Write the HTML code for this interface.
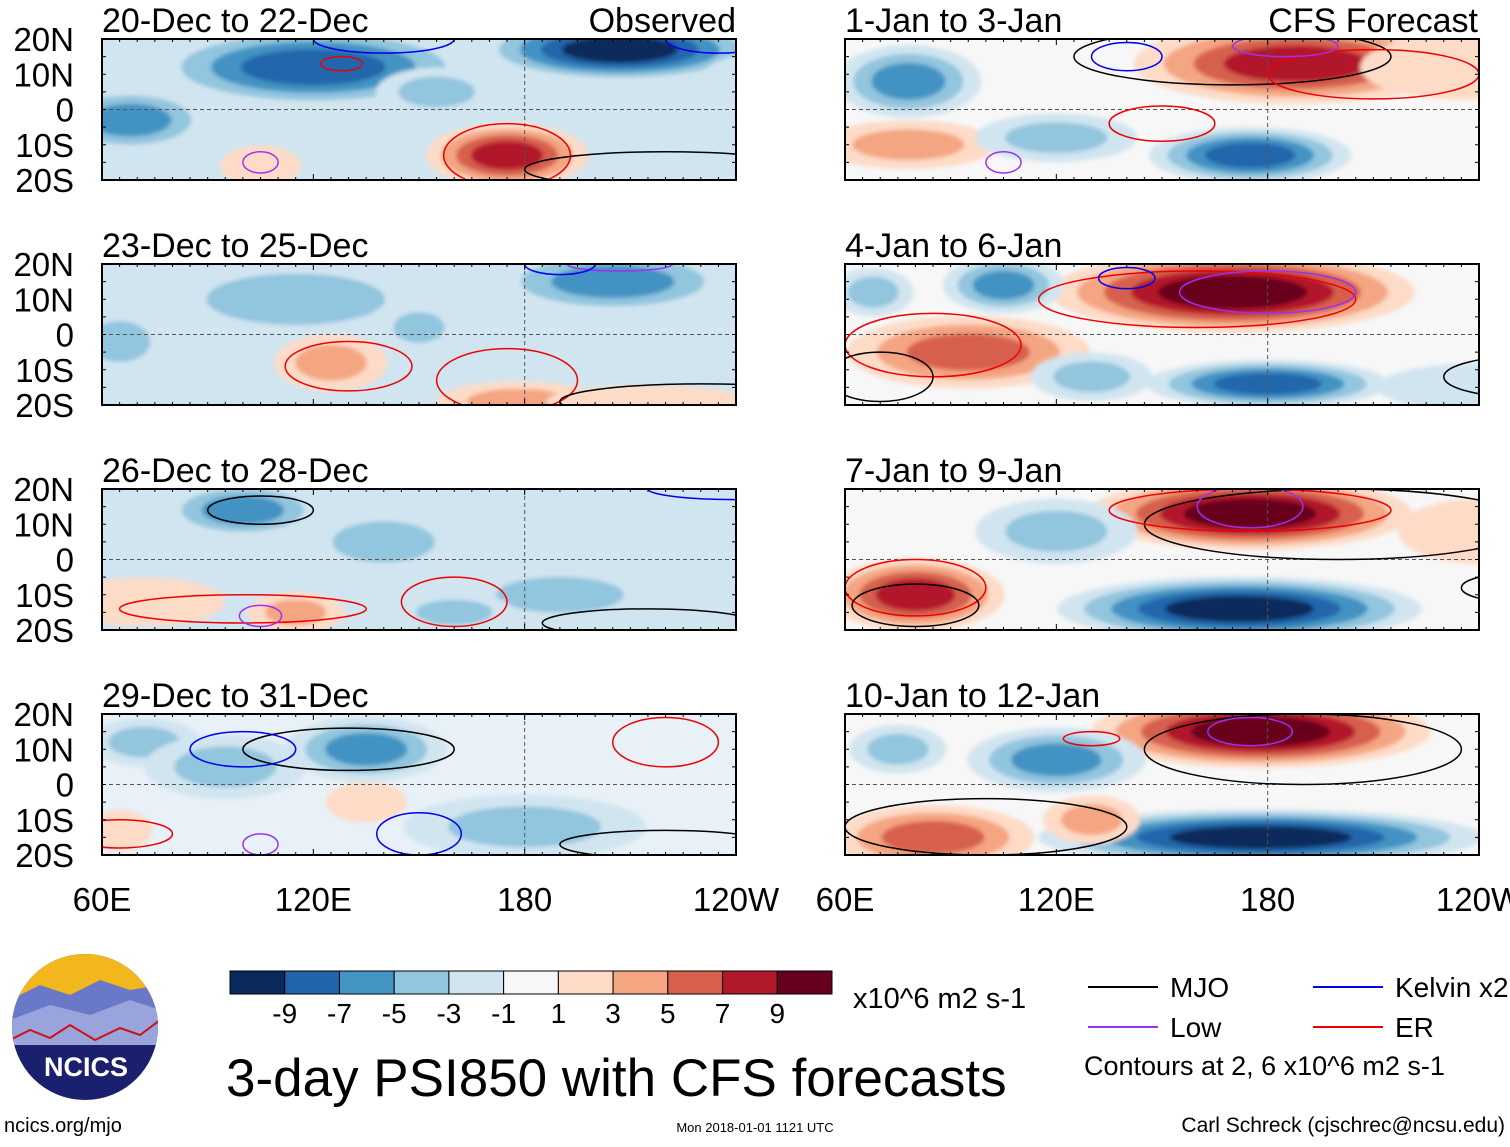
<!DOCTYPE html>
<html><head><meta charset="utf-8">
<style>
html,body{margin:0;padding:0;background:#fff;}
body{width:1510px;height:1142px;overflow:hidden;font-family:"Liberation Sans",sans-serif;}
svg text{font-family:"Liberation Sans",sans-serif;}
</style></head>
<body>
<svg id="fig" width="1510" height="1142" viewBox="0 0 1510 1142" xmlns="http://www.w3.org/2000/svg">
<defs><filter id="bl" x="-20%" y="-20%" width="140%" height="140%"><feGaussianBlur stdDeviation="2"/></filter></defs>
</svg>
<script>
const levels=[-9,-7,-5,-3,-1,1,3,5,7,9];
const colors=["#0b2a5c","#2166ac","#4393c3","#92c5de","#d1e5f0","#f7f7f7","#fddbc7","#f4a582","#d6604d","#b2182b","#67001f"];
const lonTicks=["60E","120E","180","120W"];
const latTicks=["20N","10N","0","10S","20S"];
const titles=["20-Dec to 22-Dec","23-Dec to 25-Dec","26-Dec to 28-Dec","29-Dec to 31-Dec","1-Jan to 3-Jan","4-Jan to 6-Jan","7-Jan to 9-Jan","10-Jan to 12-Jan"];
const panelBg=["#d1e5f0","#d1e5f0","#d1e5f0","#e8f1f7","#f7f7f7","#f7f7f7","#f7f7f7","#f7f7f7"];
// blobs: [lon, lat, rxDeg, ryDeg, signedLevelCount]
const blobs0=[[120,12,40,10,-4],[207,17,35,8,-5],[68,-3,20,8,-3],[175,-13,20,8,4],[105,-16,10,5,1],[155,5,15,6,-2],[250,5,20,10,-1]];
const blobs1=[[115,10,35,10,-2],[205,15,30,8,-3],[65,-2,12,8,-2],[125,-8,14,7,2],[178,-19,20,5,2],[215,-19,25,4,1],[150,2,10,6,-2]];
const blobs2=[[100,14,20,7,-3],[140,5,20,8,-2],[72,-12,20,6,1],[115,-15,12,5,2],[190,-10,25,7,-2],[160,-15,15,5,-2]];
const blobs3=[[135,10,20,8,-3],[72,12,14,6,-2],[135,-5,10,5,1],[180,-12,30,8,-2],[95,5,20,8,-2],[65,-13,8,5,1]];
const blobs4=[[188,13,40,10,4],[78,8,18,9,-3],[175,-13,25,7,-4],[78,-10,22,6,2],[235,12,25,8,1],[120,-8,20,6,-2]];
const blobs5=[[170,12,45,10,5],[105,14,15,7,-3],[95,-5,30,9,3],[180,-14,30,6,-4],[240,-15,25,6,-1],[68,12,10,6,-2],[130,-12,15,6,-2]];
const blobs6=[[175,13,40,9,5],[80,-10,22,9,4],[172,-14,45,8,-5],[120,8,20,8,-2],[240,8,20,8,1]];
const blobs7=[[178,15,42,9,5],[85,-15,25,8,3],[178,-15,55,7,-5],[120,7,22,8,-3],[75,10,12,6,-2],[130,-10,12,6,2]];
const allBlobs=[blobs0,blobs1,blobs2,blobs3,blobs4,blobs5,blobs6,blobs7];
// contours: [type, lon, lat, rxDeg, ryDeg]
const contours=[
 [["ER",175,-13,18,9],["ER",128,13,6,2],["Kelvin",140,20,20,4],["Kelvin",235,20,15,4],["MJO",220,-17,40,5],["Low",105,-15,5,3]],
 [["ER",130,-9,18,7],["ER",175,-13,20,9],["MJO",230,-19,40,5],["Low",207,20,15,2],["Kelvin",190,20,10,3]],
 [["ER",100,-14,35,4],["ER",160,-12,15,7],["MJO",105,14,15,4],["MJO",215,-18,30,4],["Kelvin",240,20,25,3],["Low",105,-16,6,3]],
 [["MJO",130,10,30,6],["Kelvin",100,10,15,5],["ER",220,12,15,7],["ER",65,-14,15,4],["Low",105,-17,5,3],["Kelvin",150,-14,12,6],["MJO",220,-17,30,4]],
 [["MJO",170,15,45,8],["Kelvin",140,15,10,4],["ER",210,10,30,7],["ER",150,-4,15,5],["Low",105,-15,5,3],["Low",185,18,15,3]],
 [["ER",160,10,45,8],["ER",85,-3,25,9],["MJO",255,-12,25,6],["MJO",70,-12,15,7],["Kelvin",140,16,8,3],["Low",180,12,25,6]],
 [["MJO",200,10,55,10],["ER",175,14,40,6],["ER",80,-8,20,8],["MJO",80,-13,18,6],["Low",175,15,15,6],["MJO",250,-8,15,4]],
 [["MJO",190,10,45,10],["ER",130,13,8,2],["MJO",100,-12,40,8],["Low",175,15,12,4]]
];
const ccol={MJO:"#000",Kelvin:"#0000ee",Low:"#9a32f0",ER:"#ee0000"};
const svg=document.getElementById('fig');
const NS="http://www.w3.org/2000/svg";
function mk(tag,attrs,parent){const e=document.createElementNS(NS,tag);for(const k in attrs)e.setAttribute(k,attrs[k]);(parent||svg).appendChild(e);return e;}
const W=634,H=141;
const px=[102,845], py=[39,264,489,714];
function xS(p,lon){return px[p<4?0:1]+(lon-60)/180*W;}
function yS(p,lat){return py[p%4]+(20-lat)/40*H;}
for(let p=0;p<8;p++){
  const x0=px[p<4?0:1],y0=py[p%4];
  const g=mk('g',{});
  
  
  const cp=mk('clipPath',{id:'c'+p},g);mk('rect',{x:x0,y:y0,width:W,height:H},cp);
  const inner=mk('g',{'clip-path':'url(#c'+p+')'},g);
  mk('rect',{x:x0,y:y0,width:W,height:H,fill:panelBg[p]},inner);
  const bg=mk('g',{filter:'url(#bl)'},inner);
  allBlobs[p].forEach(b=>{
    const n=Math.abs(b[4]),s=Math.sign(b[4]);
    for(let i=1;i<=n;i++){
      const f=1.15-(i-1)/n*0.85;
      const ci=s>0?5+i:5-i;
      const e=mk('ellipse',{cx:xS(p,b[0]),cy:yS(p,b[1]),rx:b[2]/180*W*f,ry:b[3]/40*H*f,fill:colors[ci]},bg);
      
      
    }
  });
  mk('line',{x1:x0,x2:x0+W,y1:yS(p,0),y2:yS(p,0),stroke:'#555','stroke-dasharray':'4 3','stroke-width':1},inner);
  mk('line',{x1:xS(p,180),x2:xS(p,180),y1:y0,y2:y0+H,stroke:'#555','stroke-dasharray':'4 3','stroke-width':1},inner);
  contours[p].forEach(c=>{
    const e=mk('ellipse',{cx:xS(p,c[1]),cy:yS(p,c[2]),rx:c[3]/180*W,ry:c[4]/40*H,fill:'none',stroke:ccol[c[0]],'stroke-width':1.5},inner);
    
    
  });
  mk('rect',{x:x0,y:y0,width:W,height:H,fill:'none',stroke:'#000','stroke-width':2},g);
  for(let lon=60;lon<=240;lon+=5){const x=xS(p,lon),l=lon%60==0?6:3;
    mk('line',{x1:x,x2:x,y1:y0,y2:y0+l,stroke:'#000'},g);mk('line',{x1:x,x2:x,y1:y0+H,y2:y0+H-l,stroke:'#000'},g);}
  for(let lat=-20;lat<=20;lat+=5){const y=yS(p,lat);
    mk('line',{x1:x0,x2:x0+4,y1:y,y2:y,stroke:'#000'},g);mk('line',{x1:x0+W,x2:x0+W-4,y1:y,y2:y,stroke:'#000'},g);}
  const t=mk('text',{x:x0,y:y0-7,'font-size':34,fill:'#000'},g);t.textContent=titles[p];
  
  if(p<4){latTicks.forEach((s,i)=>{const tt=mk('text',{x:74,y:y0+i*H/4+12,'font-size':33,'text-anchor':'end'},g);tt.textContent=s;
    });}
}
let t=mk('text',{x:736,y:32,'font-size':34,'text-anchor':'end'});t.textContent="Observed";

t=mk('text',{x:1478,y:32,'font-size':34,'text-anchor':'end'});t.textContent="CFS Forecast";

[0,1].forEach(c=>{lonTicks.forEach((s,i)=>{const tt=mk('text',{x:px[c]+i*W/3,y:911,'font-size':33,'text-anchor':'middle'});tt.textContent=s;
  });});
// colorbar
const cbx=230,cbw=602/11;
colors.forEach((c,i)=>{const r=mk('rect',{x:cbx+i*cbw,y:971,width:cbw,height:23,fill:c,stroke:'#000','stroke-width':1});
  });
levels.forEach((v,i)=>{const tt=mk('text',{x:cbx+(i+1)*cbw,y:1023,'font-size':28,'text-anchor':'middle'});tt.textContent=v;
  });
t=mk('text',{x:853,y:1008,'font-size':29});t.textContent="x10^6 m2 s-1";
t=mk('text',{x:226,y:1096,'font-size':53});t.textContent="3-day PSI850 with CFS forecasts";
// legend
[["MJO",1088,987,"#000"],["Kelvin x2",1313,987,"#0000ee"],["Low",1088,1027,"#9a32f0"],["ER",1313,1027,"#ee0000"]].forEach(l=>{
  const g=mk('g',{});
  mk('line',{x1:l[1],x2:l[1]+70,y1:l[2],y2:l[2],stroke:l[3],'stroke-width':2},g);
  const tt=mk('text',{x:l[1]+82,y:l[2]+10,'font-size':28},g);tt.textContent=l[0];});
t=mk('text',{x:1084,y:1075,'font-size':27});t.textContent="Contours at 2, 6 x10^6 m2 s-1";
// logo
const lg=mk('g',{});
const lc=mk('clipPath',{id:'lc'},lg);mk('circle',{cx:85,cy:1027,r:73},lc);
const li=mk('g',{'clip-path':'url(#lc)'},lg);
mk('rect',{x:10,y:950,width:150,height:160,fill:'#1a1f6e'},li);
mk('rect',{x:10,y:950,width:150,height:45,fill:'#f2b71c'},li);
mk('path',{d:'M10 1000 L40 985 L70 995 L100 980 L130 990 L160 985 L160 1040 L10 1040 Z',fill:'#6a78c8'},li);
mk('path',{d:'M10 1020 L50 1005 L90 1015 L130 1000 L160 1010 L160 1045 L10 1045 Z',fill:'#9aa4dc'},li);
mk('path',{d:'M10 1040 L30 1030 L50 1038 L70 1025 L95 1040 L120 1028 L140 1035 L160 1020',fill:'none',stroke:'#d01010','stroke-width':2},li);
t=mk('text',{x:86,y:1076,'font-size':27,'font-weight':'bold',fill:'#fff','text-anchor':'middle'},lg);t.textContent="NCICS";
t=mk('text',{x:4,y:1132,'font-size':20});t.textContent="ncics.org/mjo";
t=mk('text',{x:755,y:1132,'font-size':13,'text-anchor':'middle'});t.textContent="Mon 2018-01-01 1121 UTC";
t=mk('text',{x:1505,y:1132,'font-size':21,'text-anchor':'end'});t.textContent="Carl Schreck (cjschrec@ncsu.edu)";
</script>
</body></html>
